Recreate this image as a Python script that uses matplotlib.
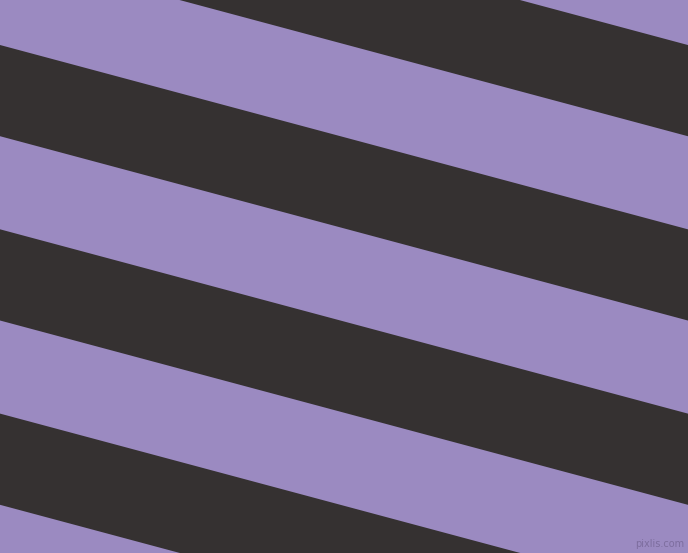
import numpy as np
import matplotlib
matplotlib.use('Agg')
import matplotlib.pyplot as plt

# picture size in pixels
width, height = 688, 553

# stripe edges: y where each edge meets the left side, and the drop per pixel (15 degrees)
dark_tops = [-139.3, 45.0, 229.3, 413.6, 597.9]
dark_bottoms = [-48.1, 136.2, 320.5, 504.8, 689.1]
slope = np.tan(np.radians(15))

purple = '#9b8ac1'
dark = '#353131'

fig = plt.figure(figsize=(width / 100, height / 100), dpi=100)
ax = fig.add_axes([0, 0, 1, 1])
ax.set_facecolor(purple)

x = np.array([0, width])
for top, bottom in zip(dark_tops, dark_bottoms):
    ax.fill_between(x, top + slope * x, bottom + slope * x,
                    facecolor=dark, edgecolor='none', linewidth=0)

ax.text(684, 549, 'pixlis.com', fontsize=7, color='#7d6d9e',
        ha='right', va='bottom')

ax.set_xlim(0, width)
ax.set_ylim(height, 0)
ax.axis('off')

plt.savefig('out.png', dpi=100, facecolor=purple)
